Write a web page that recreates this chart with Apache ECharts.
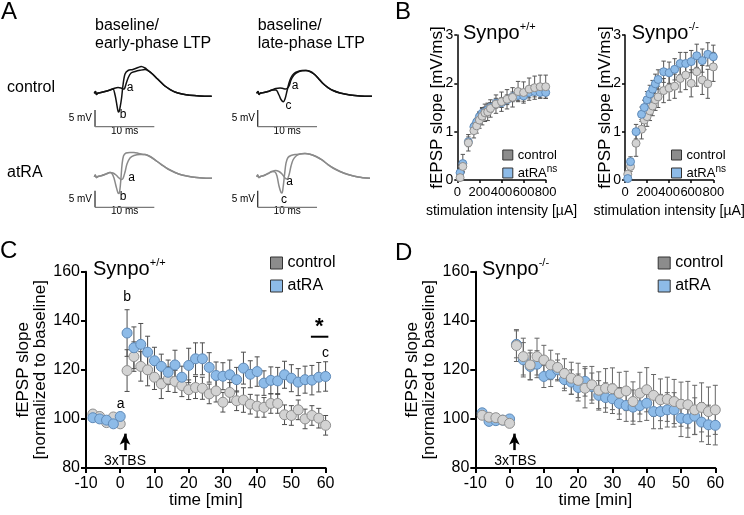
<!DOCTYPE html>
<html><head><meta charset="utf-8">
<script src="https://cdn.jsdelivr.net/npm/echarts@6/dist/echarts.min.js"></script>
<style>html,body{margin:0;padding:0;background:#fff}#c{width:744px;height:515px}</style>
</head><body><div id="c"></div>
<script>
// ================= DATA =================
// Panel A: example fEPSP traces [time ms, mV]
const traceCtrlEarlyBase = [[0,0],[0.2,0.54],[0.37,-0.36],[0.62,0.09],[1.13,0.24],[1.8,0.54],[2.65,1.0],[3.3,1.44],[4.0,1.74],[4.5,1.6],[4.84,1.29],[5.1,1.44],[5.35,2.8],[5.7,4.6],[6.2,6.1],[6.9,6.55],[7.7,6.9],[8.55,7.15],[9.05,6.85],[9.7,5.95],[10.4,4.75],[11.1,3.54],[11.9,2.2],[12.8,1.14],[13.6,0.39],[14.8,-0.2],[16.1,-0.6],[17.8,-0.8],[19.8,-0.87]];
const traceCtrlEarlyLTP = [[0,0],[0.2,0.54],[0.37,-0.36],[0.62,0.09],[1.13,0.24],[1.8,0.54],[2.65,1.0],[3.15,1.3],[3.5,-0.5],[3.75,-2.9],[4.0,-5.3],[4.15,-5.6],[4.33,-4.4],[4.6,-1.4],[4.84,2.5],[5.18,5.8],[5.7,6.85],[6.5,7.15],[7.4,7.75],[7.9,8.05],[8.55,7.6],[9.05,6.85],[9.7,5.95],[10.4,4.75],[11.1,3.54],[11.9,2.2],[12.8,1.14],[13.6,0.39],[14.8,-0.2],[16.1,-0.6],[17.8,-0.8],[19.8,-0.87]];
const traceCtrlLateBase = [[0,0],[0.22,0.54],[0.39,-0.36],[0.64,0.09],[1.23,0.24],[1.9,0.54],[2.58,0.99],[3.25,1.44],[3.93,1.59],[4.44,1.44],[4.86,1.29],[5.11,1.44],[5.45,2.19],[5.79,3.99],[6.29,5.5],[6.96,6.4],[7.64,6.79],[8.31,6.85],[8.99,6.55],[9.66,5.8],[10.34,4.6],[11.18,2.94],[12.02,1.74],[12.87,0.84],[14.05,0.09],[15.74,-0.51],[17.42,-0.81],[19.44,-0.9]];
const traceCtrlLateLTP = [[0,0],[0.22,0.54],[0.39,-0.36],[0.64,0.09],[1.23,0.24],[1.9,0.54],[2.58,0.99],[3.25,0.99],[3.76,-0.51],[4.1,-1.86],[4.49,-2.52],[4.77,-1.71],[5.11,0.69],[5.45,3.09],[5.79,4.74],[6.29,5.95],[6.96,6.55],[7.64,6.85],[8.31,6.85],[8.99,6.55],[9.66,5.8],[10.34,4.6],[11.18,2.94],[12.02,1.74],[12.87,0.84],[14.05,0.09],[15.74,-0.51],[17.42,-0.81],[19.44,-0.9]];
const traceAtraEarlyBase = [[0,0],[0.17,0.51],[0.34,-0.24],[0.62,0.06],[1.29,0.36],[1.97,0.81],[2.65,1.26],[3.15,1.11],[3.66,0.51],[4.17,-0.39],[4.59,-0.84],[4.84,-0.54],[5.18,1.41],[5.51,3.81],[6.02,5.62],[6.69,6.37],[7.7,6.67],[8.55,6.67],[9.39,6.07],[10.4,4.86],[11.42,3.51],[12.43,2.31],[13.61,1.26],[14.79,0.51],[16.48,-0.09],[18.17,-0.39],[19.85,-0.48]];
const traceAtraEarlyLTP = [[0,0],[0.17,0.51],[0.34,-0.24],[0.62,0.06],[1.29,0.36],[1.97,0.81],[2.65,1.26],[2.98,0.96],[3.32,-0.39],[3.66,-2.79],[4.0,-4.89],[4.17,-5.05],[4.33,-3.69],[4.5,-0.39],[4.67,3.51],[4.92,6.22],[5.35,7.12],[6.02,7.27],[6.69,7.27],[7.37,7.06],[8.04,6.73],[8.55,6.67],[9.39,6.07],[10.4,4.86],[11.42,3.51],[12.43,2.31],[13.61,1.26],[14.79,0.51],[16.48,-0.09],[18.17,-0.39],[19.85,-0.48]];
const traceAtraLateBase = [[0,0],[0.17,0.51],[0.34,-0.24],[0.64,0.06],[1.23,0.36],[1.91,0.96],[2.58,1.56],[3.17,1.86],[3.76,1.56],[4.27,0.81],[4.77,-0.39],[5.11,-0.69],[5.45,0.51],[5.79,3.21],[6.12,5.02],[6.63,6.22],[7.29,6.82],[8.14,6.97],[8.99,6.73],[10.0,6.07],[11.01,5.02],[12.02,3.66],[13.04,2.46],[14.05,1.56],[15.4,0.66],[17.09,-0.09],[19.11,-0.48]];
const traceAtraLateLTP = [[0,0],[0.17,0.51],[0.34,-0.24],[0.64,0.06],[1.23,0.36],[1.91,0.96],[2.58,1.56],[3.09,1.41],[3.42,0.21],[3.76,-2.79],[4.1,-4.74],[4.27,-4.89],[4.44,-3.39],[4.69,0.51],[4.94,4.11],[5.28,5.77],[5.78,6.37],[6.46,6.67],[7.29,6.82],[8.14,6.97],[8.99,6.73],[10.0,6.07],[11.01,5.02],[12.02,3.66],[13.04,2.46],[14.05,1.56],[15.4,0.66],[17.09,-0.09],[19.11,-0.48]];
const scaleBarMs = 10;
const scaleBarMv = 5;

// Panel B: input-output curves
const stimIntensity = [25,50,100,150,175,200,225,250,275,300,350,400,450,500,550,600,650,700,750,800];
const ioCtrlWT    = [0.05,0.28,0.77,1.02,1.12,1.24,1.32,1.39,1.41,1.48,1.57,1.62,1.67,1.71,1.83,1.81,1.88,1.91,1.93,1.93];
const ioCtrlWTsem = [0.04,0.1,0.17,0.15,0.15,0.17,0.18,0.18,0.18,0.18,0.19,0.2,0.2,0.2,0.21,0.22,0.23,0.24,0.24,0.24];
const ioAtraWT    = [0.15,0.34,0.79,1.1,1.2,1.31,1.38,1.41,1.45,1.5,1.59,1.6,1.66,1.72,1.75,1.74,1.81,1.83,1.81,1.81];
const ioAtraWTsem = [0.05,0.19,0.1,0.08,0.08,0.09,0.1,0.1,0.1,0.1,0.1,0.1,0.1,0.1,0.11,0.11,0.11,0.11,0.11,0.12];
const ioCtrlKO    = [0.12,0.28,0.76,1.05,1.24,1.31,1.43,1.53,1.66,1.72,1.85,1.9,1.94,2.1,2.17,2.0,2.24,2.07,1.99,2.34];
const ioCtrlKOsem = [0.05,0.1,0.27,0.2,0.2,0.2,0.2,0.2,0.22,0.22,0.25,0.25,0.25,0.28,0.3,0.28,0.3,0.3,0.3,0.3];
const ioAtraKO    = [0.03,0.38,1.0,1.36,1.5,1.66,1.78,1.88,1.99,2.08,2.24,2.22,2.29,2.41,2.41,2.45,2.57,2.47,2.6,2.55];
const ioAtraKOsem = [0.04,0.1,0.15,0.15,0.15,0.17,0.18,0.18,0.2,0.2,0.22,0.22,0.22,0.23,0.23,0.23,0.24,0.24,0.24,0.24];

// Panels C, D: LTP time course
const timeMin = [-8,-6,-4,-2,0,2,4,6,8,10,12,14,16,18,20,22,24,26,28,30,32,34,36,38,40,42,44,46,48,50,52,54,56,58,60];
const ltpCtrlWT    = [102,101,98.5,100.8,98,119.7,125.4,121.4,120,117,114.3,116.2,115.3,113.6,111.9,112.8,112.5,110.2,111.4,106.8,110.8,107.4,107.7,106,105.2,104.7,106.3,106.3,101.7,101.4,103.7,100,101.4,100.3,97.4];
const ltpCtrlWTsem = [0.8,0.8,0.8,0.8,0.8,8.5,6,6,6.5,5,6,5,4.5,4.5,4,4.5,4.5,4,4.5,4,4,4,5,4,4.5,4,4,4,4,4,4,4,4,4,4];
const ltpAtraWT    = [100.5,100,99.5,98,101,135,129,130.4,127.2,123.7,121.4,119,122,117,121.8,124.5,124.5,121,117.7,117.4,118,116,120.7,118.2,119.3,114.6,115.7,115.5,118,116.6,115,116,115.8,117,117.3];
const ltpAtraWTsem = [0.8,0.8,0.8,0.8,0.8,9.5,8.5,8.5,6.5,5.5,5,5,6,4.5,7,6.5,6.5,6,5.5,5.5,6,5,6.5,5.5,6,5,5.5,5.5,5.5,5.5,5.5,5.5,6,6,6];
const ltpCtrlKO    = [101.5,100.7,100.5,99.5,98.2,129.9,125.4,122,125.4,124,122,121,118.5,116.6,115.7,112.5,113.9,111.7,112.5,112.3,110.5,111.4,107.1,110.5,111.9,109.6,107.8,108,107.1,106,105.8,103.7,104.7,103,103.7];
const ltpCtrlKOsem = [0.8,0.8,0.8,0.8,0.8,6.5,7.5,6,7.5,6,6,5.5,6,6.5,7,8,7.5,7.5,8,8.5,8.5,8,8,8.5,9,8.5,8.5,9,9,9,9.5,10,10,10,10];
const ltpAtraKO    = [102.5,99,99.3,99.5,100,130.4,124.1,121.4,122.3,117.3,118.2,120,116,115,112.8,115.3,113.2,109.6,108.7,108.2,106.3,105.5,104.8,105.4,106.4,103,103,103.7,103.7,100.3,100,101.1,98.7,97.6,97.4];
const ltpAtraKOsem = [0.8,0.8,0.8,0.8,0.8,5.5,7,5.5,5.5,4.5,5,4,4.5,5,5.5,6,5.5,6,6,6,6.5,6.5,7,6.5,7,7,7,7,7,7.5,7.5,7.5,8,8,8];
const tbsTime = 1.4;                 // 3xTBS arrow time (min)
const sigBar = [55.7, 60.8, 133.5];  // significance bar: x start, x end, level

const xTicksB = {min:0, max:800, interval:200};
const yTicksB = {min:0, max:3, interval:1};
const xTicksC = {min:-10, max:60, interval:10};
const yTicksC = {min:80, max:160, interval:20};

// ================= CHART =================
const FONT = "'Liberation Sans', Arial, Helvetica, sans-serif";
const chart = echarts.init(document.getElementById('c'), null, {renderer:'canvas', width:744, height:515});

const grids = [
  {left:94.3, top:60, width:118.6, height:73.3},
  {left:256.7, top:60, width:118.6, height:73.3},
  {left:94.3, top:143.4, width:118.6, height:73.3},
  {left:256.7, top:143.4, width:118.6, height:73.3},
  {left:457.3, top:35, width:88.4, height:145},
  {left:625, top:35, width:88.3, height:145},
  {left:86, top:271.7, width:239.6, height:196.3},
  {left:475.3, top:271.7, width:240, height:196.3}
].map(g => Object.assign({containLabel:false, outerBoundsMode:'none'}, g));

const xAxes = [], yAxes = [];
for (let i = 0; i < 4; i++) {
  xAxes.push({type:'value', gridIndex:i, min:0, max:20, show:false});
  yAxes.push({type:'value', gridIndex:i, min:-12, max:10, show:false});
}
function axisStyle(w, tickLen, fs, margin) {
  return {
    axisLine:{show:true, onZero:false, lineStyle:{color:'#000', width:w}},
    axisTick:{show:true, length:tickLen, lineStyle:{color:'#000', width:w}},
    splitLine:{show:false},
    axisLabel:{color:'#000', fontSize:fs, fontFamily:FONT, margin:margin, hideOverlap:false},
    nameMoveOverlap:false
  };
}
[4,5].forEach(gi => {
  xAxes.push(Object.assign({type:'value', gridIndex:gi}, xTicksB, axisStyle(1.5,3,13,6), {
    name:'stimulation intensity [µA]', nameLocation:'middle', nameGap:24,
    nameTextStyle:{color:'#000', fontSize:14, fontFamily:FONT}}));
  yAxes.push(Object.assign({type:'value', gridIndex:gi}, yTicksB, axisStyle(1.5,3,14,4), {
    name:'fEPSP slope [mV/ms]', nameLocation:'middle', nameRotate:90, nameGap:11,
    nameTextStyle:{color:'#000', fontSize:17, fontFamily:FONT}}));
});
[6,7].forEach(gi => {
  xAxes.push(Object.assign({type:'value', gridIndex:gi}, xTicksC, axisStyle(2,5,16,8), {
    name:'time [min]', nameLocation:'middle', nameGap:24,
    nameTextStyle:{color:'#000', fontSize:17, fontFamily:FONT}}));
  yAxes.push(Object.assign({type:'value', gridIndex:gi}, yTicksC, axisStyle(2,5,16,6), {
    name:'fEPSP slope\n[normalized to baseline]', nameLocation:'middle', nameRotate:90, nameGap:37,
    nameTextStyle:{color:'#000', fontSize:17, lineHeight:17, fontFamily:FONT}}));
});

const series = [];
// Panel A traces
const traceSets = [
  {gi:0, a:traceCtrlEarlyBase, b:traceCtrlEarlyLTP, col:'#111', bar:[0.12,-5]},
  {gi:1, a:traceCtrlLateBase,  b:traceCtrlLateLTP,  col:'#111', bar:[0.17,-5]},
  {gi:2, a:traceAtraEarlyBase, b:traceAtraEarlyLTP, col:'#8a8a8a', bar:[0.12,-4.2]},
  {gi:3, a:traceAtraLateBase,  b:traceAtraLateLTP,  col:'#8a8a8a', bar:[0.17,-4.2]}
];
traceSets.forEach(s => {
  [s.a, s.b].forEach(d => series.push({type:'line', xAxisIndex:s.gi, yAxisIndex:s.gi, data:d,
    smooth:0.3, symbol:'none', silent:true, lineStyle:{color:s.col, width:1.5}}));
  const t0 = s.bar[0], v0 = s.bar[1];
  series.push({type:'line', xAxisIndex:s.gi, yAxisIndex:s.gi, symbol:'none', silent:true,
    data:[[t0, v0],[t0, v0 - scaleBarMv]], lineStyle:{color:'#333', width:1.3}});
  series.push({type:'line', xAxisIndex:s.gi, yAxisIndex:s.gi, symbol:'none', silent:true,
    data:[[t0, v0 - scaleBarMv],[t0 + scaleBarMs, v0 - scaleBarMv]], lineStyle:{color:'#7a7a7a', width:1.3}});
});

function errBar(cap, color, w) {
  return function(params, api) {
    const x = api.value(0);
    const lo = api.coord([x, api.value(1)]);
    const hi = api.coord([x, api.value(2)]);
    const st = {stroke:color, lineWidth:w};
    return {type:'group', children:[
      {type:'line', shape:{x1:lo[0], y1:lo[1], x2:hi[0], y2:hi[1]}, style:st},
      {type:'line', shape:{x1:lo[0]-cap, y1:lo[1], x2:lo[0]+cap, y2:lo[1]}, style:st},
      {type:'line', shape:{x1:hi[0]-cap, y1:hi[1], x2:hi[0]+cap, y2:hi[1]}, style:st}
    ]};
  };
}
const GRAY = {color:'#d3d3d3', borderColor:'#8e8e8e', borderWidth:1, opacity:1};
const BLUE = {color:'#8dbbe8', borderColor:'#5f8ab8', borderWidth:1, opacity:1};
function addGroup(gi, xs, mean, sem, name, style, size, cap, ecol, extra) {
  series.push({type:'custom', xAxisIndex:gi, yAxisIndex:gi, silent:true,
    renderItem:errBar(cap, ecol, 1), encode:{x:0, y:[1,2]},
    data:xs.map((t,i) => [t, mean[i]-sem[i], mean[i]+sem[i]])});
  series.push(Object.assign({type:'scatter', name:name, xAxisIndex:gi, yAxisIndex:gi, silent:true,
    symbol:'circle', symbolSize:size, itemStyle:style, clip:false,
    data:xs.map((t,i) => [t, mean[i]])}, extra || {}));
}
// Panel B
addGroup(4, stimIntensity, ioAtraWT, ioAtraWTsem, 'atRA', BLUE, 8, 2.2, '#555');
addGroup(4, stimIntensity, ioCtrlWT, ioCtrlWTsem, 'control', GRAY, 8, 2.2, '#555');
addGroup(5, stimIntensity, ioCtrlKO, ioCtrlKOsem, 'control', GRAY, 8, 2.2, '#555');
addGroup(5, stimIntensity, ioAtraKO, ioAtraKOsem, 'atRA', BLUE, 8, 2.2, '#555');
// Panel C
const arrowLine = (x) => ({silent:true, symbol:['none','arrow'], symbolSize:[8,11], label:{show:false},
  lineStyle:{color:'#000', width:2.5, type:'solid'}, data:[[{coord:[x,87.3]},{coord:[x,94]}]]});
addGroup(6, timeMin, ltpCtrlWT, ltpCtrlWTsem, 'control', GRAY, 10, 2.5, '#4d4d4d', {markLine:arrowLine(tbsTime)});
addGroup(6, timeMin, ltpAtraWT, ltpAtraWTsem, 'atRA', BLUE, 10, 2.5, '#4d4d4d');
series.push({type:'custom', xAxisIndex:6, yAxisIndex:6, silent:true, clip:false,
  encode:{x:[0,1], y:2}, data:[sigBar],
  renderItem:(params, api) => {
    const p1 = api.coord([api.value(0), api.value(2)]);
    const p2 = api.coord([api.value(1), api.value(2)]);
    return {type:'line', shape:{x1:p1[0], y1:p1[1], x2:p2[0], y2:p2[1]}, style:{stroke:'#000', lineWidth:2}};
  }});
// Panel D
addGroup(7, timeMin, ltpAtraKO, ltpAtraKOsem, 'atRA', BLUE, 10, 2.5, '#666', {markLine:arrowLine(tbsTime)});
addGroup(7, timeMin, ltpCtrlKO, ltpCtrlKOsem, 'control', GRAY, 10, 2.5, '#666');

// Legends
function leg(name, left, cy, size, fs, sup) {
  const st = name === 'control'
    ? {color:'#8c8c8c', borderColor:'#333', borderWidth:1}
    : {color:'#8dbbe8', borderColor:'#333', borderWidth:1};
  return {show:true, left:left, top:cy - 9, padding:0, itemWidth:size, itemHeight:size, itemGap:0,
    selectedMode:false, icon:'rect', data:[{name:name, itemStyle:st}],
    formatter: sup ? ('{n|' + name + '}{s|' + sup + '}') : '{n|' + name + '}',
    textStyle:{color:'#000', fontFamily:FONT, fontSize:fs, lineHeight:18,
      rich:{n:{fontSize:fs, lineHeight:18, fontFamily:FONT, color:'#000'},
            s:{fontSize:fs-3, lineHeight:10, verticalAlign:'top', fontFamily:FONT, color:'#000'}}}};
}
const legends = [
  leg('control', 502.3, 155, 10, 13), leg('atRA', 502.3, 173, 10, 13, 'ns'),
  leg('control', 671, 155, 10, 13), leg('atRA', 671, 173, 10, 13, 'ns'),
  leg('control', 270, 263, 12, 16), leg('atRA', 270, 286, 12, 16),
  leg('control', 657.7, 263, 12, 16), leg('atRA', 657.7, 286, 12, 16)
];

// Text annotations
function txt(x, y, text, fs, align, extra) {
  return {type:'text', x:x, y:y, silent:true, style:Object.assign({text:text, fontSize:fs, fontFamily:FONT,
    fill:'#000', align:align || 'left', verticalAlign:'middle'}, extra || {})};
}
function synpo(x, y, sup) {
  return {type:'text', x:x, y:y, silent:true, style:{text:'{t|Synpo}{s|' + sup + '}', align:'left', verticalAlign:'middle',
    rich:{t:{fontSize:20, lineHeight:24, fontFamily:FONT, fill:'#000'},
          s:{fontSize:11, lineHeight:16, verticalAlign:'top', fontFamily:FONT, fill:'#000'}}}};
}
const texts = [
  txt(1, 12, 'A', 24), txt(395, 12, 'B', 24), txt(0, 251, 'C', 24), txt(395, 253, 'D', 24),
  txt(95, 25.5, 'baseline/', 16), txt(95, 43.5, 'early-phase LTP', 16),
  txt(257.7, 25.5, 'baseline/', 16), txt(257.7, 43.5, 'late-phase LTP', 16),
  txt(7, 88, 'control', 16), txt(7, 173, 'atRA', 16),
  txt(92, 118, '5 mV', 10, 'right'), txt(255, 118, '5 mV', 10, 'right'),
  txt(92, 199, '5 mV', 10, 'right'), txt(255, 199, '5 mV', 10, 'right'),
  txt(124.6, 131, '10 ms', 10, 'center'), txt(287.2, 131, '10 ms', 10, 'center'),
  txt(124.6, 211.5, '10 ms', 10, 'center'), txt(287.2, 211.5, '10 ms', 10, 'center'),
  txt(130, 87.5, 'a', 12, 'center'), txt(123, 115, 'b', 12, 'center'),
  txt(295, 86, 'a', 12, 'center'), txt(288.5, 105.5, 'c', 12, 'center'),
  txt(131.5, 177.5, 'a', 12, 'center'), txt(123, 197, 'b', 12, 'center'),
  txt(289.5, 181.5, 'a', 12, 'center'), txt(284, 199.5, 'c', 12, 'center'),
  synpo(463, 33, '+/+'), synpo(631.7, 33, '-/-'),
  synpo(93, 269, '+/+'), synpo(482, 269, '-/-'),
  txt(120.7, 404.5, 'a', 14, 'center'), txt(127.1, 297, 'b', 14, 'center'),
  txt(325.5, 352.7, 'c', 14, 'center'), txt(319.3, 327, '*', 22, 'center', {fontWeight:'bold'}),
  txt(125, 461, '3xTBS', 14, 'center'), txt(515.3, 461, '3xTBS', 14, 'center')
];

chart.setOption({
  animation:false,
  backgroundColor:'#fff',
  textStyle:{fontFamily:FONT},
  grid:grids, xAxis:xAxes, yAxis:yAxes, legend:legends, series:series,
  graphic:{elements:texts}
});
</script>
</body></html>
